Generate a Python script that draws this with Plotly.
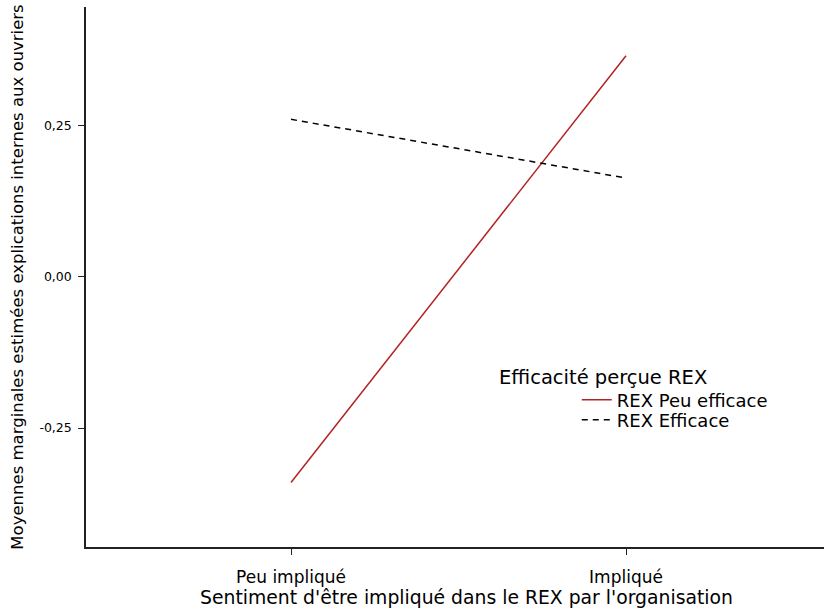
import plotly.graph_objects as go

# Estimated marginal means by involvement level, one series per perceived REX efficacy
categories = ["Peu impliqué", "Impliqué"]
peu_efficace = [-0.340, 0.365]
efficace = [0.260, 0.163]
series_names = ["REX Peu efficace", "REX Efficace"]
y_tick_values = [-0.25, 0.0, 0.25]
y_tick_labels = ["-0,25", "0,00", "0,25"]
x_title = "Sentiment d'être impliqué dans le REX par l'organisation"
y_title = "Moyennes marginales estimées explications internes aux ouvriers"
legend_title = "Efficacité perçue REX"

x_pos = list(range(len(categories)))
font_family = "DejaVu Sans, Liberation Sans, Arial, sans-serif"

fig = go.Figure()
fig.add_trace(go.Scatter(
    x=x_pos, y=peu_efficace, mode="lines", name=series_names[0],
    line=dict(color="#b22222", width=1.5), legend="legend",
))
fig.add_trace(go.Scatter(
    x=x_pos, y=efficace, mode="lines", name=series_names[1],
    line=dict(color="#000000", width=1.5, dash="6px,5px"), legend="legend2",
))

legend_style = dict(
    xanchor="left", yanchor="top", bgcolor="rgba(0,0,0,0)",
    font=dict(size=18), itemwidth=30,
)

fig.update_layout(
    width=824, height=611,
    margin=dict(l=86, r=0, t=7, b=64),
    paper_bgcolor="white", plot_bgcolor="white",
    font=dict(family=font_family, color="#000000"),
    showlegend=True,
    legend=dict(x=0.665, y=0.3065, **legend_style),
    legend2=dict(x=0.665, y=0.2694, **legend_style),
    xaxis=dict(
        range=[-0.612, 1.591],
        tickvals=x_pos, ticktext=categories,
        showline=True, linecolor="#222222", linewidth=1.5,
        ticks="outside", ticklen=6, tickcolor="#222222",
        showgrid=False, zeroline=False,
        tickfont=dict(size=17), ticklabelstandoff=8,
    ),
    yaxis=dict(
        range=[-0.4466, 0.4456],
        tickvals=y_tick_values, ticktext=y_tick_labels,
        showline=True, linecolor="#222222", linewidth=1.5,
        ticks="outside", ticklen=6, tickcolor="#222222",
        showgrid=False, zeroline=False,
        tickfont=dict(size=12.5), ticklabelstandoff=4,
        title=dict(text=y_title, font=dict(size=16.5), standoff=12),
    ),
    annotations=[
        dict(text=legend_title, x=0.557, y=0.313, xref="paper", yref="paper",
             xanchor="left", yanchor="middle", showarrow=False, font=dict(size=19.5)),
        dict(text=x_title, x=0.515, y=-0.0926, xref="paper", yref="paper",
             xanchor="center", yanchor="middle", showarrow=False, font=dict(size=18.8)),
    ],
)

fig.write_html("out.html")
